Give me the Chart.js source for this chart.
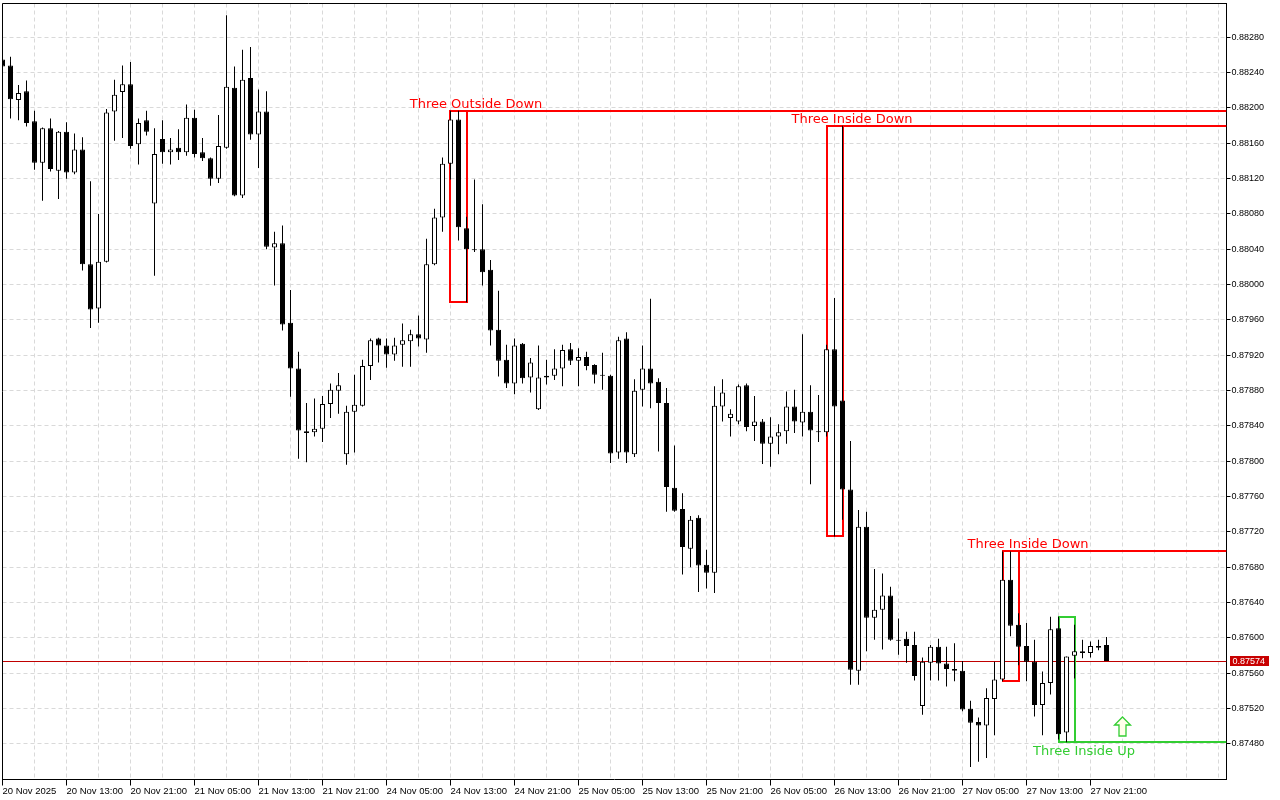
<!DOCTYPE html>
<html>
<head>
<meta charset="utf-8">
<script src="https://cdn.jsdelivr.net/npm/chart.js@4.4.0/dist/chart.umd.min.js"></script>
<style>
  html, body { margin: 0; padding: 0; background: #fff; }
</style>
</head>
<body>
<canvas id="candleChart" width="1280" height="800"></canvas>
<script>
// hourly bars, 20 Nov 05:00 .. 27 Nov 23:00
const opens = [
  0.88255,0.88248,0.88209,0.88219,0.88185,0.88138,0.88177,0.88129,0.88173,0.88127,
  0.88153,0.88023,0.87973,0.88026,0.88196,0.88218,0.88227,0.88159,0.88186,0.88092,
  0.88165,0.88150,0.88155,0.88150,0.88189,0.88150,0.88143,0.88120,0.88155,0.88223,
  0.88101,0.88234,0.88170,0.88196,0.88042,0.88047,0.87957,0.87905,0.87834,0.87833,
  0.87837,0.87865,0.87880,0.87808,0.87856,0.87863,0.87908,0.87939,0.87931,0.87921,
  0.87932,0.87936,0.87944,0.87938,0.88023,0.88076,0.88137,0.88187,0.88064,0.88040,
  0.88040,0.88017,0.87949,0.87915,0.87888,0.87933,0.87895,0.87859,0.87895,0.87897,
  0.87905,0.87927,0.87914,0.87918,0.87909,0.87898,0.87897,0.87810,0.87939,0.87808,
  0.87881,0.87905,0.87890,0.87866,0.87770,0.87746,0.87701,0.87736,0.87683,0.87674,
  0.87862,0.87849,0.87845,0.87886,0.87840,0.87845,0.87820,0.87828,0.87834,0.87862,
  0.87844,0.87856,0.87834,0.87833,0.87927,0.87869,0.87768,0.87563,0.87726,0.87623,
  0.87632,0.87648,0.87598,0.87599,0.87592,0.87523,0.87572,0.87590,0.87571,0.87565,
  0.87563,0.87520,0.87505,0.87501,0.87531,0.87553,0.87666,0.87615,0.87591,0.87573,
  0.87524,0.87549,0.87611,0.87493,0.87580,0.87583,0.87583,0.87591,0.87592
];
const highs = [
  0.88259,0.88258,0.88226,0.88231,0.88197,0.88178,0.88188,0.88174,0.88184,0.88171,
  0.88167,0.88117,0.88080,0.88199,0.88232,0.88248,0.88252,0.88188,0.88197,0.88177,
  0.88186,0.88166,0.88176,0.88204,0.88198,0.88166,0.88144,0.88192,0.88305,0.88247,
  0.88266,0.88269,0.88221,0.88219,0.88060,0.88067,0.87994,0.87924,0.87866,0.87871,
  0.87874,0.87888,0.87900,0.87863,0.87898,0.87915,0.87939,0.87940,0.87939,0.87940,
  0.87956,0.87949,0.87965,0.88052,0.88086,0.88144,0.88197,0.88197,0.88077,0.88119,
  0.88091,0.88028,0.87993,0.87932,0.87939,0.87934,0.87917,0.87931,0.87915,0.87927,
  0.87932,0.87934,0.87928,0.87924,0.87910,0.87923,0.87898,0.87941,0.87946,0.87893,
  0.87931,0.87984,0.87894,0.87883,0.87818,0.87764,0.87738,0.87739,0.87700,0.87885,
  0.87893,0.87859,0.87887,0.87888,0.87874,0.87848,0.87850,0.87842,0.87879,0.87881,
  0.87944,0.87886,0.87875,0.87932,0.87985,0.88180,0.87823,0.87745,0.87743,0.87678,
  0.87673,0.87658,0.87622,0.87607,0.87607,0.87578,0.87592,0.87599,0.87590,0.87594,
  0.87574,0.87529,0.87510,0.87543,0.87573,0.87698,0.87698,0.87628,0.87617,0.87598,
  0.87562,0.87624,0.87624,0.87579,0.87615,0.87598,0.87596,0.87598,0.87601
];
const lows = [
  0.88245,0.88188,0.88186,0.88179,0.88130,0.88095,0.88128,0.88097,0.88120,0.88125,
  0.88016,0.87951,0.87957,0.88025,0.88163,0.88166,0.88154,0.88136,0.88169,0.88010,
  0.88137,0.88136,0.88141,0.88146,0.88144,0.88140,0.88112,0.88115,0.88154,0.88100,
  0.88098,0.88164,0.88132,0.88040,0.87999,0.87948,0.87873,0.87803,0.87799,0.87828,
  0.87822,0.87849,0.87854,0.87796,0.87810,0.87862,0.87892,0.87912,0.87906,0.87914,
  0.87907,0.87907,0.87930,0.87923,0.88022,0.88060,0.88119,0.88050,0.87980,0.88037,
  0.87999,0.87931,0.87896,0.87883,0.87876,0.87888,0.87878,0.87858,0.87887,0.87892,
  0.87885,0.87909,0.87885,0.87903,0.87888,0.87881,0.87798,0.87803,0.87798,0.87805,
  0.87862,0.87860,0.87811,0.87743,0.87743,0.87672,0.87680,0.87652,0.87656,0.87651,
  0.87845,0.87828,0.87842,0.87834,0.87823,0.87797,0.87794,0.87808,0.87820,0.87832,
  0.87828,0.87774,0.87822,0.87828,0.87715,0.87734,0.87547,0.87547,0.87585,0.87598,
  0.87587,0.87597,0.87581,0.87572,0.87552,0.87513,0.87552,0.87552,0.87545,0.87551,
  0.87517,0.87454,0.87460,0.87464,0.87490,0.87551,0.87602,0.87569,0.87551,0.87511,
  0.87490,0.87536,0.87485,0.87482,0.87554,0.87577,0.87578,0.87586,0.87574
];
const closes = [
  0.88247,0.88210,0.88217,0.88183,0.88138,0.88177,0.88131,0.88173,0.88127,0.88153,
  0.88023,0.87972,0.88026,0.88195,0.88215,0.88227,0.88157,0.88183,0.88173,0.88148,
  0.88150,0.88153,0.88150,0.88189,0.88148,0.88143,0.88120,0.88157,0.88224,0.88101,
  0.88232,0.88170,0.88196,0.88043,0.88047,0.87955,0.87905,0.87835,0.87832,0.87837,
  0.87865,0.87881,0.87886,0.87856,0.87864,0.87908,0.87937,0.87931,0.87921,0.87931,
  0.87937,0.87944,0.87939,0.88023,0.88076,0.88137,0.88187,0.88065,0.88040,0.88039,
  0.88014,0.87948,0.87914,0.87888,0.87931,0.87894,0.87912,0.87895,0.87897,0.87905,
  0.87926,0.87914,0.87918,0.87908,0.87898,0.87897,0.87809,0.87937,0.87810,0.87880,
  0.87905,0.87888,0.87866,0.87771,0.87744,0.87703,0.87734,0.87682,0.87674,0.87863,
  0.87878,0.87854,0.87885,0.87839,0.87845,0.87820,0.87828,0.87833,0.87862,0.87845,
  0.87856,0.87835,0.87833,0.87927,0.87862,0.87768,0.87564,0.87726,0.87623,0.87632,
  0.87648,0.87598,0.87597,0.87591,0.87557,0.87573,0.87590,0.87571,0.87565,0.87563,
  0.87519,0.87504,0.87501,0.87532,0.87553,0.87666,0.87614,0.87590,0.87573,0.87524,
  0.87549,0.87610,0.87491,0.87579,0.87585,0.87585,0.87591,0.87589,0.87574
];

// one label every 8 bars, grid line every 4
const timeLabels = [
  '20 Nov 2025', '20 Nov 13:00', '20 Nov 21:00', '21 Nov 05:00', '21 Nov 13:00',
  '21 Nov 21:00', '24 Nov 05:00', '24 Nov 13:00', '24 Nov 21:00', '25 Nov 05:00',
  '25 Nov 13:00', '25 Nov 21:00', '26 Nov 05:00', '26 Nov 13:00', '26 Nov 21:00',
  '27 Nov 05:00', '27 Nov 13:00', '27 Nov 21:00'
];
const labelEvery = 8;
const gridEvery = 4;
const slotCount = 154; // visible bar slots incl. empty space on the right

const yTickValues = [
  0.87480, 0.87520, 0.87560, 0.87600, 0.87640, 0.87680, 0.87720, 0.87760, 0.87800,
  0.87840, 0.87880, 0.87920, 0.87960, 0.88000, 0.88040, 0.88080, 0.88120, 0.88160,
  0.88200, 0.88240, 0.88280
];
const yMin = 0.874398;
const yMax = 0.883183;
const currentPrice = 0.87574;

// candle patterns (bar index ranges)
const patternNames = ['Three Outside Down', 'Three Inside Down', 'Three Inside Down', 'Three Inside Up'];
const patternStart = [56, 103, 125, 132];
const patternEnd = [58, 105, 127, 134];
const patternBullish = [false, false, false, true];
const arrowIndex = 140;

const RED = '#ff0000';
const GREEN = '#32cd32';

const slots = Array.from({ length: slotCount }, (_, i) => i);
const bodyData = opens.map((o, i) => [o, closes[i]]);
const wickData = lows.map((l, i) => [l, highs[i]]);
const bodyFill = opens.map((o, i) => closes[i] >= o ? '#ffffff' : '#000000');

function timeLabelAt(v) {
  if (v % labelEvery !== 0) return '';
  return timeLabels[v / labelEvery] || '';
}

function drawUpArrow(ctx, cx, bottom, color) {
  const top = bottom - 19;
  const headH = 8, headW = 8, stemW = 3.5;
  ctx.beginPath();
  ctx.moveTo(cx, top);
  ctx.lineTo(cx + headW, top + headH);
  ctx.lineTo(cx + stemW, top + headH);
  ctx.lineTo(cx + stemW, bottom);
  ctx.lineTo(cx - stemW, bottom);
  ctx.lineTo(cx - stemW, top + headH);
  ctx.lineTo(cx - headW, top + headH);
  ctx.closePath();
  ctx.fillStyle = '#ffffea';
  ctx.fill();
  ctx.lineWidth = 1.3;
  ctx.strokeStyle = color;
  ctx.stroke();
}

const overlayPlugin = {
  id: 'overlay',
  beforeDatasetsDraw(chart) {
    const { ctx, chartArea: a, scales: { x, y } } = chart;
    ctx.save();
    ctx.beginPath();
    ctx.rect(a.left, a.top, a.right - a.left, a.bottom - a.top);
    ctx.clip();

    // bid line
    const py = Math.round(y.getPixelForValue(currentPrice)) + 0.5;
    ctx.strokeStyle = '#c00000';
    ctx.lineWidth = 1;
    ctx.beginPath();
    ctx.moveTo(a.left, py);
    ctx.lineTo(a.right, py);
    ctx.stroke();

    patternNames.forEach((name, i) => {
      const s = patternStart[i], e = patternEnd[i];
      const hi = Math.max(...highs.slice(s, e + 1));
      const lo = Math.min(...lows.slice(s, e + 1));
      const color = patternBullish[i] ? GREEN : RED;
      const x1 = Math.round(x.getPixelForValue(s));
      const x2 = Math.round(x.getPixelForValue(e));
      const yHi = Math.round(y.getPixelForValue(hi));
      const yLo = Math.round(y.getPixelForValue(lo));

      ctx.strokeStyle = color;
      ctx.lineWidth = 2;
      ctx.strokeRect(x1, yHi, x2 - x1, yLo - yHi);
      const ly = patternBullish[i] ? yLo : yHi;
      ctx.beginPath();
      ctx.moveTo(x1, ly);
      ctx.lineTo(a.right, ly);
      ctx.stroke();

      ctx.fillStyle = color;
      ctx.font = '13px "DejaVu Sans"';
      ctx.textAlign = 'center';
      ctx.textBaseline = 'alphabetic';
      const tx = x.getPixelForValue((s + e) / 2) + 17.5;
      ctx.fillText(name, tx, patternBullish[i] ? ly + 13 : ly - 3);

      if (patternBullish[i]) {
        drawUpArrow(ctx, x.getPixelForValue(arrowIndex), ly - 6, color);
      }
    });
    ctx.restore();
  },
  afterDraw(chart) {
    const { ctx, chartArea: a, scales: { y } } = chart;
    ctx.save();
    // top and left frame
    ctx.strokeStyle = '#000';
    ctx.lineWidth = 1;
    ctx.beginPath();
    ctx.moveTo(a.left, a.bottom);
    ctx.lineTo(a.left, a.top);
    ctx.lineTo(a.right, a.top);
    ctx.stroke();

    // price tag
    const py = Math.round(y.getPixelForValue(currentPrice));
    ctx.fillStyle = '#c80000';
    ctx.fillRect(a.right + 3.5, py - 5, 39, 10);
    ctx.fillStyle = '#ffffff';
    ctx.font = '9px "Liberation Sans", Arial, sans-serif';
    ctx.textAlign = 'left';
    ctx.textBaseline = 'middle';
    ctx.fillText(currentPrice.toFixed(5), a.right + 6, py + 0.5);
    ctx.restore();
  }
};

const ctx = document.querySelector('#candleChart').getContext('2d');
const candleChart = new Chart(ctx, {
  type: 'bar',
  data: {
    labels: slots,
    datasets: [
      {
        label: 'Body',
        data: bodyData,
        backgroundColor: bodyFill,
        borderColor: '#000000',
        borderWidth: 1,
        borderSkipped: false,
        barThickness: 5,
        minBarLength: 1,
        grouped: false,
        inflateAmount: 0,
        order: 0
      },
      {
        label: 'Wick',
        data: wickData,
        backgroundColor: '#000000',
        borderWidth: 0,
        barThickness: 1,
        grouped: false,
        inflateAmount: 0,
        order: 1
      }
    ]
  },
  options: {
    responsive: false,
    animation: false,
    events: [],
    layout: { padding: { left: 2.5, top: 3.5, right: 0, bottom: 0 } },
    plugins: {
      legend: { display: false },
      tooltip: { enabled: false }
    },
    scales: {
      x: {
        type: 'category',
        offset: false,
        grid: {
          offset: false,
          color: '#d9d9d9',
          lineWidth: 1,
          drawTicks: true,
          tickLength: 6,
          tickWidth: 1,
          tickColor: c => (c.tick && timeLabelAt(c.tick.value) !== '') ? '#000000' : 'rgba(0,0,0,0)'
        },
        border: { display: true, color: '#000000', width: 1, dash: [4, 3] },
        ticks: {
          autoSkip: false,
          maxRotation: 0,
          minRotation: 0,
          align: 'start',
          padding: 0,
          color: '#000000',
          font: { family: '"Liberation Sans", Arial, sans-serif', size: 9.5 },
          callback: v => timeLabelAt(v)
        },
        afterBuildTicks: s => { s.ticks = s.ticks.filter(t => t.value % gridEvery === 0); },
        afterFit: s => {
          s.height = 20.5;
          s.paddingLeft = 0; s.paddingRight = 0; s.paddingTop = 0; s.paddingBottom = 0;
        }
      },
      y: {
        position: 'right',
        min: yMin,
        max: yMax,
        grid: {
          color: '#d9d9d9',
          lineWidth: 1,
          drawTicks: true,
          tickLength: 4,
          tickColor: '#000000'
        },
        border: { display: true, color: '#000000', width: 1, dash: [4, 3] },
        ticks: {
          padding: 1,
          color: '#000000',
          font: { family: '"Liberation Sans", Arial, sans-serif', size: 9 },
          callback: v => Number(v).toFixed(5)
        },
        afterBuildTicks: s => { s.ticks = yTickValues.map(v => ({ value: v })); },
        afterFit: s => {
          s.width = 53.5;
          s.paddingLeft = 0; s.paddingRight = 0; s.paddingTop = 0; s.paddingBottom = 0;
        }
      }
    }
  },
  plugins: [overlayPlugin]
});
</script>
</body>
</html>
